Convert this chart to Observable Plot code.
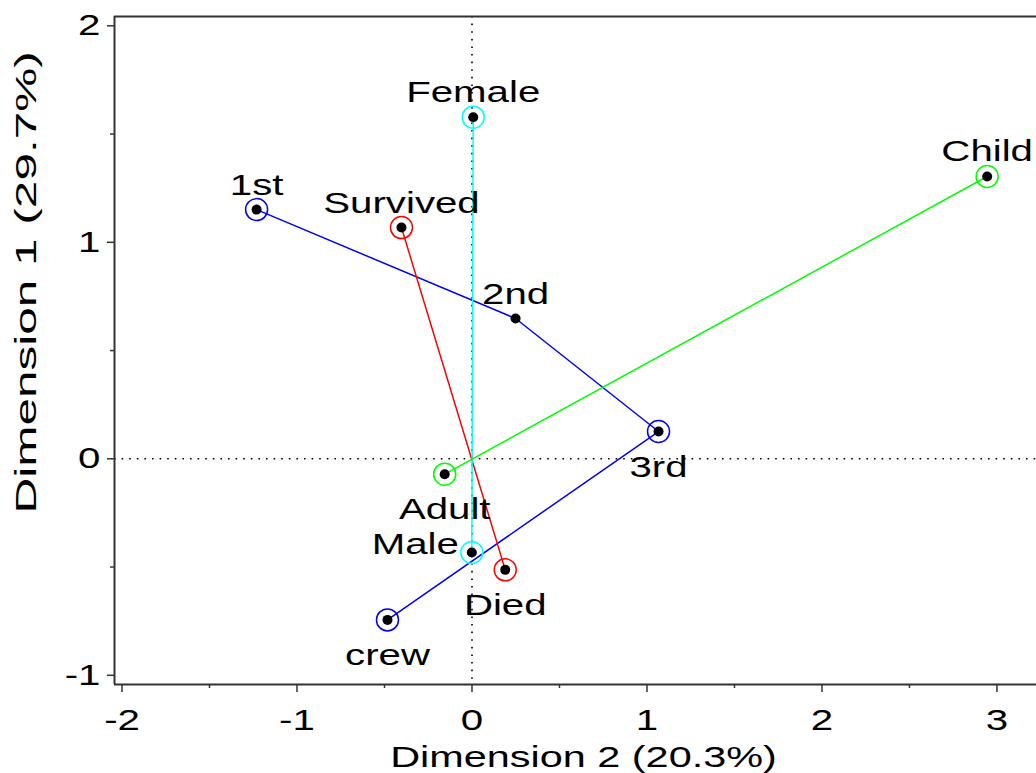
<!DOCTYPE html>
<html><head><meta charset="utf-8">
<script src="https://cdn.jsdelivr.net/npm/d3@7"></script>
<script src="https://cdn.jsdelivr.net/npm/@observablehq/plot@0.6"></script>
<style>body{margin:0;background:#fff;overflow:hidden}#chart svg{display:block}</style>
</head><body><div id="chart"></div>
<script>
// ---- data ----
const labels   = ["1st", "2nd", "3rd", "crew", "Survived", "Died", "Female", "Male", "Child", "Adult"];
const dim2     = [-1.231, 0.249, 1.066, -0.483, -0.403, 0.190, 0.007, -0.001, 2.944, -0.156];
const dim1     = [1.151, 0.648, 0.126, -0.744, 1.068, -0.513, 1.578, -0.433, 1.304, -0.071];
const variable = ["Class", "Class", "Class", "Class", "Survival", "Survival", "Sex", "Sex", "Age", "Age"];
const circled  = [true, false, true, true, true, true, true, true, true, true];
const variables = ["Class", "Survival", "Sex", "Age"];
const xTicks = [-2, -1, 0, 1, 2, 3];
const xMinor = [-1.5, -0.5, 0.5, 1.5, 2.5];
const yTicks = [-1, 0, 1, 2];
const yMinor = [-0.5, 0.5, 1.5];
const xLabel = "Dimension 2 (20.3%)";
const yLabel = "Dimension 1 (29.7%)";

// ---- styling / layout ----
const palette = ["#0000ff", "#ff0000", "#00ffff", "#00ff00"];
const placement = {"1st":"above","2nd":"above","Survived":"above","Female":"above","Child":"above",
                   "3rd":"below","crew":"below","Died":"below","Adult":"below","Male":"left"};
const xDomain = [-2.043, 3.226];
const yDomain = [-1.0425, 2.043];
const FS = 30;
const font = "'Liberation Sans', Arial, Helvetica, sans-serif";
const frameColor = "#333";

const pts = labels.map((label, i) => ({label, x: dim2[i], y: dim1[i], variable: variable[i], circled: circled[i]}));

const chart = Plot.plot({
  width: 1036,
  height: 773,
  marginLeft: 114,
  marginRight: 0,
  marginTop: 16,
  marginBottom: 89,
  style: {fontFamily: font, fontSize: FS + "px", background: "#fff", overflow: "visible"},
  x: {domain: xDomain},
  y: {domain: yDomain},
  color: {domain: variables, range: palette},
  marks: [
    Plot.ruleX([0], {stroke: "black", strokeWidth: 1.6, strokeDasharray: "1.6,6"}),
    Plot.ruleY([0], {stroke: "black", strokeWidth: 1.6, strokeDasharray: "1.6,6"}),
    Plot.line(pts, {x: "x", y: "y", z: "variable", stroke: "variable", strokeWidth: 1.5}),
    Plot.dot(pts.filter(d => d.circled), {x: "x", y: "y", r: 11, stroke: "variable", strokeWidth: 1.5, fill: "none"}),
    Plot.dot(pts, {x: "x", y: "y", r: 5, fill: "black", stroke: "none"}),
    Plot.text(pts.filter(d => placement[d.label] === "above"), {x: "x", y: "y", text: "label", lineAnchor: "bottom", dy: -15, fontSize: FS, fill: "black"}),
    Plot.text(pts.filter(d => placement[d.label] === "below"), {x: "x", y: "y", text: "label", lineAnchor: "bottom", dy: 45, fontSize: FS, fill: "black"}),
    Plot.text(pts.filter(d => placement[d.label] === "left"), {x: "x", y: "y", text: "label", lineAnchor: "bottom", textAnchor: "end", dx: -13, dy: 1, fontSize: FS, fill: "black"}),
    // frame (left, bottom, top)
    Plot.ruleX([xDomain[0]], {stroke: frameColor, strokeWidth: 2}),
    Plot.ruleY([yDomain[0], yDomain[1]], {stroke: frameColor, strokeWidth: 2}),
    // axes
    Plot.axisX(xTicks, {tickSize: 8, tickPadding: 16, fontSize: FS, tickFormat: d => String(d), stroke: frameColor, strokeWidth: 1.5, fill: "black", label: null}),
    Plot.axisX(xMinor, {tickSize: 4, tickFormat: () => "", stroke: frameColor, strokeWidth: 1.5, label: null}),
    Plot.axisY(yTicks, {tickSize: 7, tickPadding: 7, fontSize: FS, tickFormat: d => String(d), stroke: frameColor, strokeWidth: 1.5, fill: "black", label: null}),
    Plot.axisY(yMinor, {tickSize: 4, tickFormat: () => "", stroke: frameColor, strokeWidth: 1.5, label: null}),
    Plot.text([xLabel], {text: d => d, frameAnchor: "bottom", lineAnchor: "bottom", dy: 82, dx: 8, fontSize: FS, fill: "black"}),
    Plot.text([yLabel], {text: d => d, frameAnchor: "left", rotate: -90, textAnchor: "start", lineAnchor: "bottom", dx: -79, dy: 163, fontSize: FS, fill: "black"})
  ]
});
document.getElementById("chart").appendChild(chart);

// the reference's font is drawn wider than usual: stretch each text along its baseline
chart.querySelectorAll("text").forEach(t => {
  const len = t.getComputedTextLength();
  if (!len) return;
  const factor = t.textContent === yLabel ? 1.65 : t.textContent === xLabel ? 1.38 : 1.34;
  t.setAttribute("textLength", (len * factor).toFixed(1));
  t.setAttribute("lengthAdjust", "spacingAndGlyphs");
});
</script>
</body></html>
